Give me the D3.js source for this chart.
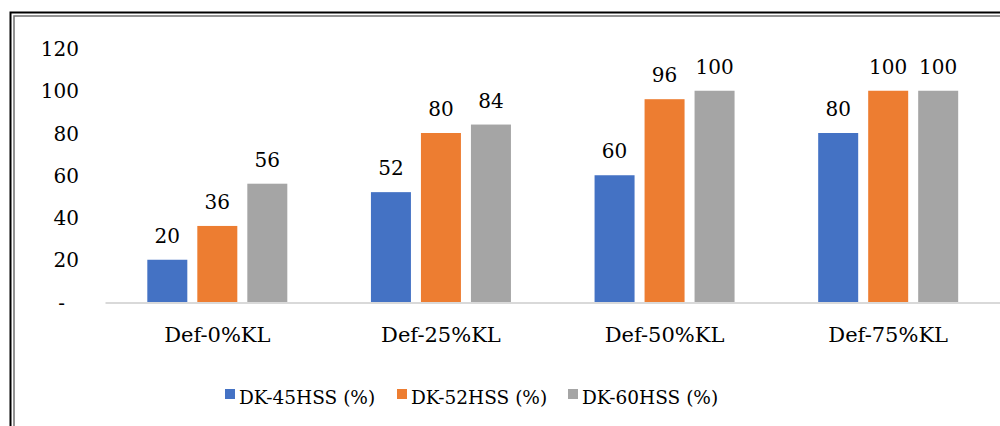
<!DOCTYPE html>
<html>
<head>
<meta charset="utf-8">
<script src="https://cdn.jsdelivr.net/npm/d3@7/dist/d3.min.js"></script>
<style>
  html, body { margin: 0; padding: 0; background: #fff; }
  svg { display: block; }
</style>
</head>
<body>
<svg id="chart" width="1000" height="426"></svg>
<script>
// Categories, series and values
const categories = ["Def-0%KL", "Def-25%KL", "Def-50%KL", "Def-75%KL"];
const seriesNames = ["DK-45HSS (%)", "DK-52HSS (%)", "DK-60HSS (%)"];
const dk45 = [20, 52, 60, 80];
const dk52 = [36, 80, 96, 100];
const dk60 = [56, 84, 100, 100];
const yTicks = [0, 20, 40, 60, 80, 100, 120];
const colors = ["#4472C4", "#ED7D31", "#A5A5A5"];

const FONT = "'DejaVu Serif', serif";
const seriesValues = [dk45, dk52, dk60];
const svg = d3.select("#chart");

// Double frame around the chart area
svg.append("rect").attr("x", 10.5).attr("y", 12.5).attr("width", 1000).attr("height", 430)
  .attr("fill", "none").attr("stroke", "#000").attr("stroke-width", 2);
svg.append("rect").attr("x", 14).attr("y", 16).attr("width", 1000).attr("height", 430)
  .attr("fill", "none").attr("stroke", "#707070").attr("stroke-width", 1.5);

const x = d3.scaleBand().domain(categories).range([105.5, 1000]).paddingInner(0).paddingOuter(0);
const y = d3.scaleLinear().domain([0, 120]).range([302, 48.5]);
const xs = d3.scaleBand().domain(d3.range(seriesNames.length))
  .range([x.bandwidth() / 2 - 70, x.bandwidth() / 2 + 70]).paddingInner(0.2).paddingOuter(0);

// Y axis labels only (no line, no ticks)
const yAxis = svg.append("g").attr("transform", "translate(79,0)")
  .call(d3.axisLeft(y).tickValues(yTicks).tickSize(0).tickPadding(0)
    .tickFormat(d => d === 0 ? "-" : d));
yAxis.select(".domain").remove();
yAxis.attr("font-family", null);
yAxis.selectAll("text").style("font-family", FONT).style("font-size", "20px")
  .attr("fill", "#000").attr("dy", "0.36em");
yAxis.selectAll(".tick").filter(d => d === 0).select("text").attr("x", -14);

// Bars and value labels
const groups = svg.append("g").selectAll("g").data(categories).join("g")
  .attr("transform", d => `translate(${x(d)},0)`);

groups.each(function(cat, ci) {
  const g = d3.select(this);
  seriesValues.forEach((vals, si) => {
    const v = vals[ci];
    g.append("rect")
      .attr("x", xs(si)).attr("width", xs.bandwidth())
      .attr("y", y(v)).attr("height", y(0) - y(v))
      .attr("fill", colors[si]);
    g.append("text")
      .attr("x", xs(si) + xs.bandwidth() / 2).attr("y", y(v) - 17)
      .attr("text-anchor", "middle")
      .style("font-family", FONT).style("font-size", "20px").attr("fill", "#000")
      .text(v);
  });
});

// Category axis line
svg.append("line").attr("x1", x.range()[0]).attr("x2", x.range()[1])
  .attr("y1", 303).attr("y2", 303).attr("stroke", "#D9D9D9").attr("stroke-width", 2);

// Category labels
const xAxis = svg.append("g").attr("transform", "translate(0,303)")
  .call(d3.axisBottom(x).tickSize(0).tickPadding(0));
xAxis.select(".domain").remove();
xAxis.attr("font-family", null);
xAxis.selectAll("text").style("font-family", FONT).style("font-size", "21px")
  .attr("fill", "#000").attr("dy", 0).attr("y", 39);

// Legend
const legendX = [225, 397, 568];
const legend = svg.append("g").selectAll("g").data(seriesNames).join("g")
  .attr("transform", (d, i) => `translate(${legendX[i]},0)`);
legend.append("rect").attr("x", 0).attr("y", 389).attr("width", 10).attr("height", 10)
  .attr("fill", (d, i) => colors[i]);
legend.append("text").attr("x", 14).attr("y", 404)
  .style("font-family", FONT).style("font-size", "18.5px").attr("fill", "#000")
  .text(d => d);
</script>
</body>
</html>
